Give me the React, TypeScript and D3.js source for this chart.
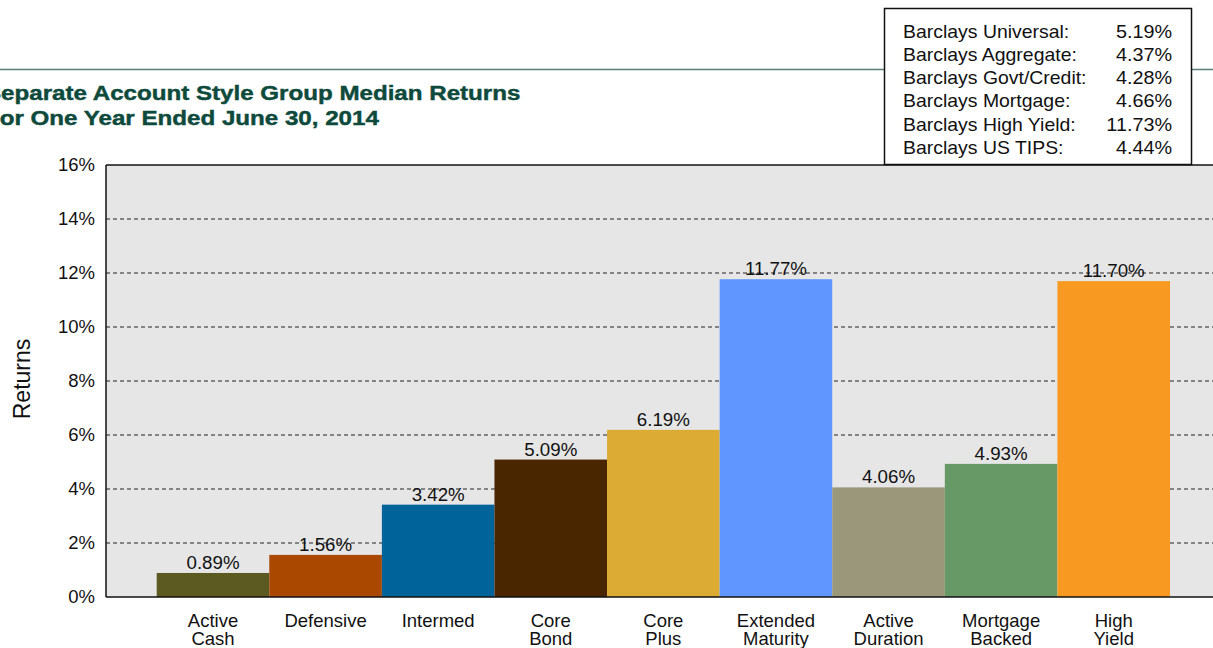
import React from "react";
import * as d3 from "d3";

const categories = [
  "Active\nCash",
  "Defensive",
  "Intermed",
  "Core\nBond",
  "Core\nPlus",
  "Extended\nMaturity",
  "Active\nDuration",
  "Mortgage\nBacked",
  "High\nYield",
];
const returns = [0.89, 1.56, 3.42, 5.09, 6.19, 11.77, 4.06, 4.93, 11.7];
const barColors = [
  "#5c5a20",
  "#aa4800",
  "#00649a",
  "#4a2600",
  "#dbab33",
  "#6096ff",
  "#9a977a",
  "#669966",
  "#f89a22",
];
const yTicks = [0, 2, 4, 6, 8, 10, 12, 14, 16];
const benchNames = [
  "Barclays Universal:",
  "Barclays Aggregate:",
  "Barclays Govt/Credit:",
  "Barclays Mortgage:",
  "Barclays High Yield:",
  "Barclays US TIPS:",
];
const benchValues = [5.19, 4.37, 4.28, 4.66, 11.73, 4.44];
const titleLines = [
  "Separate Account Style Group Median Returns",
  "For One Year Ended June 30, 2014",
];

const W = 1213;
const H = 648;
const FONT = "'Liberation Sans', Arial, Helvetica, sans-serif";

export default function App() {
  const plotLeft = 106;
  const plotRight = 1240;
  const plotTop = 165;
  const plotBottom = 597;

  const x = d3
    .scaleBand<string>()
    .domain(categories)
    .range([156.7, 1170])
    .padding(0);
  const y = d3.scaleLinear().domain([0, 16]).range([plotBottom, plotTop]);
  const cx = (c: string) => (x(c) as number) + x.bandwidth() / 2;

  return (
    <svg
      width={W}
      height={H}
      style={{ position: "absolute", left: 0, top: 0, background: "#fff" }}
      fontFamily={FONT}
    >
      {/* top rule */}
      <line x1={0} x2={W} y1={69.5} y2={69.5} stroke="#5e7c77" strokeWidth={1.5} />

      {/* title */}
      {titleLines.map((t, i) => (
        <text
          key={i}
          transform={`translate(-15,${99.5 + i * 25.5}) scale(1.15,1)`}
          fontSize={21}
          fontWeight="bold"
          fill="#0e4a3c"
          stroke="#0e4a3c"
          strokeWidth={0.45}
        >
          {t}
        </text>
      ))}

      {/* plot background */}
      <rect
        x={plotLeft}
        y={plotTop}
        width={plotRight - plotLeft}
        height={plotBottom - plotTop}
        fill="#e6e6e6"
      />

      {/* gridlines */}
      {yTicks
        .filter((t) => t > 0 && t < 16)
        .map((t) => (
          <line
            key={t}
            x1={plotLeft}
            x2={plotRight}
            y1={y(t)}
            y2={y(t)}
            stroke="#222"
            strokeWidth={1}
            strokeDasharray="4,3"
          />
        ))}

      {/* bars */}
      {categories.map((c, i) => (
        <rect
          key={c}
          x={x(c)}
          y={y(returns[i])}
          width={x.bandwidth()}
          height={plotBottom - y(returns[i])}
          fill={barColors[i]}
        />
      ))}

      {/* frame */}
      <line x1={plotLeft} x2={plotRight} y1={plotTop} y2={plotTop} stroke="#111" strokeWidth={1.5} />
      <line x1={plotLeft} x2={plotLeft} y1={plotTop} y2={plotBottom} stroke="#111" strokeWidth={1.5} />
      <line x1={plotLeft} x2={plotRight} y1={plotBottom} y2={plotBottom} stroke="#111" strokeWidth={1.5} />

      {/* value labels */}
      {categories.map((c, i) => (
        <text
          key={c}
          transform={`translate(${cx(c)},${y(returns[i]) - 4}) scale(1.07,1)`}
          textAnchor="middle"
          fontSize={17.5}
          fill="#111"
        >
          {returns[i].toFixed(2) + "%"}
        </text>
      ))}

      {/* y tick labels */}
      {yTicks.map((t) => (
        <text
          key={t}
          x={95}
          y={y(t)}
          dy="0.35em"
          textAnchor="end"
          fontSize={18.5}
          fill="#111"
        >
          {t + "%"}
        </text>
      ))}

      {/* x labels */}
      {categories.map((c) => (
        <text key={c} textAnchor="middle" fontSize={18.5} fill="#111">
          {c.split("\n").map((ln, j) => (
            <tspan key={j} x={cx(c)} y={626.5 + j * 18.3}>
              {ln}
            </tspan>
          ))}
        </text>
      ))}

      {/* y axis title */}
      <text
        transform="translate(30,379) rotate(-90)"
        textAnchor="middle"
        fontSize={23}
        fill="#111"
      >
        Returns
      </text>

      {/* benchmark box */}
      <rect x={884.5} y={8.5} width={307} height={156} fill="#fff" stroke="#111" strokeWidth={1.5} />
      {benchNames.map((n, i) => (
        <g key={n}>
          <text
            transform={`translate(903,${37.8 + i * 23.2}) scale(1.08,1)`}
            fontSize={18}
            fill="#111"
          >
            {n}
          </text>
          <text
            transform={`translate(1172,${37.8 + i * 23.2}) scale(1.1,1)`}
            fontSize={18}
            textAnchor="end"
            fill="#111"
          >
            {benchValues[i].toFixed(2) + "%"}
          </text>
        </g>
      ))}
    </svg>
  );
}
